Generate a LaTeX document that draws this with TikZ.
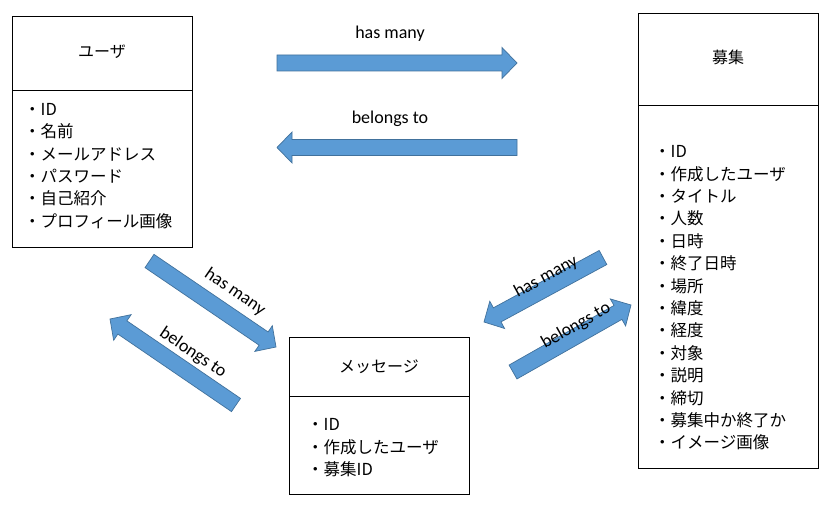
\documentclass[tikz,border=0pt]{standalone}
\usepackage{fontspec}
\setmainfont{Carlito}
\newfontfamily\jp{Noto Sans CJK JP}
\usetikzlibrary{calc}
\definecolor{arrowfill}{HTML}{5B9BD5}
\definecolor{arrowline}{HTML}{41719C}
\newcommand\fatarrow[2]{%
  \coordinate (H) at ($(#2)!15pt!(#1)$);
  \path[arrowshape]
    ($(#1)!8pt!90:(#2)$) -- ($(H)!8pt!90:(#2)$) -- ($(H)!15.5pt!90:(#2)$) --
    (#2) -- ($(H)!15.5pt!-90:(#2)$) -- ($(H)!8pt!-90:(#2)$) --
    ($(#1)!8pt!-90:(#2)$) -- cycle;
}
\begin{document}
\begin{tikzpicture}[x=1pt,y=-1pt,
  box/.style={draw=black, line width=0.8pt, inner sep=0pt, anchor=north west},
  boxtitle/.style={font=\jp\fontsize{16}{20}\selectfont, inner sep=0pt},
  boxlist/.style={font=\jp\fontsize{16.5}{22.4}\selectfont, align=left, anchor=west, inner sep=0pt},
  arrowshape/.style={fill=arrowfill, draw=arrowline, line width=0.7pt, line join=miter},
  rel/.style={font=\fontsize{18}{20}\selectfont, inner sep=0pt}]
\useasboundingbox (0,0) rectangle (837,513);
\fill[white] (0,0) rectangle (837,513);

% User box
\node[box, minimum width=180pt, minimum height=231pt] (user) at (12,16) {};
\draw[line width=0.8pt] (user.west |- 0,90) -- (user.east |- 0,90);
\node[boxtitle] (usertitle) at (102,52) {ユーザ};
\node[boxlist] (userlist) at (24,166) {・ID\\・名前\\・メールアドレス\\・パスワード\\・自己紹介\\・プロフィール画像};

% Recruit box
\node[box, minimum width=180pt, minimum height=455pt] (recruit) at (638,13) {};
\draw[line width=0.8pt] (recruit.west |- 0,105) -- (recruit.east |- 0,105);
\node[boxtitle] (recruittitle) at (728,57) {募集};
\node[boxlist] (recruitlist) at (654,298) {・ID\\・作成したユーザ\\・タイトル\\・人数\\・日時\\・終了日時\\・場所\\・緯度\\・経度\\・対象\\・説明\\・締切\\・募集中か終了か\\・イメージ画像};

% Message box
\node[box, minimum width=180pt, minimum height=157pt] (message) at (289,337) {};
\draw[line width=0.8pt] (message.west |- 0,396) -- (message.east |- 0,396);
\node[boxtitle] (messagetitle) at (379,367) {メッセージ};
\node[boxlist] (messagelist) at (307,448) {・ID\\・作成したユーザ\\・募集ID};

% Arrow end points
\coordinate (a1t) at (277,63);   \coordinate (a1h) at (517,63);
\coordinate (a2t) at (517,147.5); \coordinate (a2h) at (277,147.5);
\coordinate (a3t) at (149.5,261); \coordinate (a3h) at (276,347);
\coordinate (a4t) at (236,405);  \coordinate (a4h) at (110,319);
\coordinate (a5t) at (603,257.5); \coordinate (a5h) at (484,322);
\coordinate (a6t) at (513,372);  \coordinate (a6h) at (631,305);

\fatarrow{a1t}{a1h}
\fatarrow{a2t}{a2h}
\fatarrow{a3t}{a3h}
\fatarrow{a4t}{a4h}
\fatarrow{a5t}{a5h}
\fatarrow{a6t}{a6h}

% Labels
\node[rel] (l1) at (390,34) {has many};
\node[rel] (l2) at (390,119) {belongs to};
\node[rel, rotate=-34.5] (l3) at (235,292) {has many};
\node[rel, rotate=-34] (l4) at (193,353) {belongs to};
\node[rel, rotate=28.6] (l5) at (546,277) {has many};
\node[rel, rotate=29.5] (l6) at (576,326) {belongs to};
\end{tikzpicture}
\end{document}
